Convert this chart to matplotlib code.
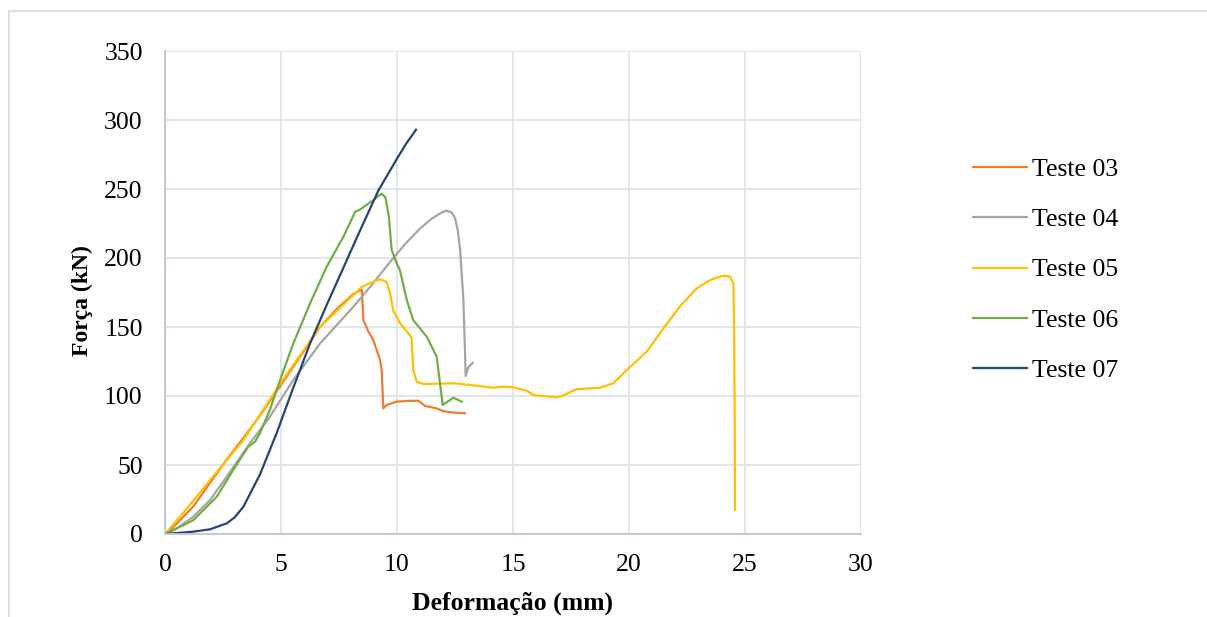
import matplotlib
matplotlib.use("Agg")
import matplotlib.pyplot as plt
from matplotlib.patches import Rectangle

# Force vs. deformation curves for five load tests
teste03_x = [0, 0.3, 0.65, 1.22, 1.94, 2.66, 3.4, 4.1, 5.0, 5.8, 6.68, 7.4, 8.12, 8.48,
             8.55, 8.77, 8.98, 9.27, 9.34, 9.41, 9.55, 9.99, 10.42, 10.92, 11.21, 11.71,
             11.99, 12.43, 12.93]
teste03_y = [0, 4, 10, 20, 37, 54, 70, 86, 108, 128, 150, 163, 174, 177,
             155, 146.6, 140.6, 126, 118.8, 91, 93.5, 95.9, 96.4, 96.6, 92.8, 91,
             89, 88, 87.5]

teste04_x = [0, 0.5, 1.22, 1.94, 2.66, 3.66, 4.52, 5.53, 6.68, 8.12, 8.84, 9.84, 10.4,
             11.0, 11.5, 11.9, 12.14, 12.35, 12.5, 12.62, 12.72, 12.86, 12.93, 12.96,
             13.08, 13.26]
teste04_y = [0, 4, 12.5, 24.6, 41.5, 65.7, 85, 111.6, 138, 164.7, 179, 200, 211,
             221.5, 228.5, 232.8, 234.3, 233, 229, 220, 206, 170, 133, 114.5,
             121, 124]

teste05_x = [0, 0.65, 1.94, 3.38, 5.05, 6.68, 8.48, 9.0, 9.27, 9.55, 9.70, 9.84, 10.13,
             10.56, 10.63, 10.70, 10.85, 11.13, 12.43, 13.15, 14.15, 14.51, 15.01, 15.59,
             15.88, 16.88, 17.1, 17.74, 18.75, 19.32, 19.9, 20.76, 21.48, 22.2, 22.92,
             23.49, 24.06, 24.35, 24.5, 24.53, 24.56, 24.57]
teste05_y = [0, 12.5, 39, 68, 111, 150, 179, 183, 184.5, 182.8, 174.4, 162, 152.7,
             144, 141.8, 118.8, 110.4, 108.7, 109.2, 108, 106, 106.7, 106.3, 103.9,
             100.7, 99, 100, 104.9, 106, 109.2, 118.8, 132, 149, 165, 178,
             184, 187.2, 186.5, 181.7, 147.8, 75, 17.4]

teste06_x = [0, 0.5, 1.22, 2.23, 2.94, 3.59, 3.88, 4.09, 4.52, 4.96, 5.53, 6.25, 6.97,
             7.69, 8.1, 8.19, 8.4, 8.98, 9.2, 9.35, 9.5, 9.65, 9.77, 9.99, 10.13, 10.42,
             10.70, 11.28, 11.71, 11.97, 12.1, 12.28, 12.43, 12.79]
teste06_y = [0, 4, 10, 27, 46.4, 63.3, 66.9, 73, 89.9, 111.6, 138, 167, 193.7,
             215.4, 230, 233.5, 235, 242, 245, 246.5, 244, 230, 205.8, 196, 191, 169.6,
             155, 143, 128.5, 93.5, 95, 97, 98.8, 95.9]

teste07_x = [0, 0.6, 1.22, 1.94, 2.66, 3.0, 3.38, 4.09, 4.81, 5.53, 6.25, 6.97, 7.69,
             8.41, 9.2, 10.0, 10.4, 10.82]
teste07_y = [0, 0.8, 1.7, 3.4, 7.7, 12, 19.8, 43, 73, 106, 138, 166, 193,
             220, 249, 272, 283, 293]

series = [
    ("Teste 03", teste03_x, teste03_y, "#ED7D31"),
    ("Teste 04", teste04_x, teste04_y, "#A5A5A5"),
    ("Teste 05", teste05_x, teste05_y, "#FFC000"),
    ("Teste 06", teste06_x, teste06_y, "#70AD47"),
    ("Teste 07", teste07_x, teste07_y, "#264478"),
]

x_ticks = [0, 5, 10, 15, 20, 25, 30]
y_ticks = [0, 50, 100, 150, 200, 250, 300, 350]

plt.rcParams["font.family"] = ["Liberation Serif", "DejaVu Serif"]

W, H = 1207, 617
fig = plt.figure(figsize=(W / 100, H / 100), dpi=100)
ax = fig.add_axes([165 / W, (H - 534) / H, (861 - 165) / W, (534 - 51) / H])

for label, xs, ys, color in series:
    ax.plot(xs, ys, color=color, lw=1.6, label=label, solid_joinstyle="round")

ax.set_xlim(0, 30)
ax.set_ylim(0, 350)
ax.set_xticks(x_ticks)
ax.set_yticks(y_ticks)
ax.grid(True, color="#DFE3EA", lw=1.3)
ax.set_axisbelow(True)
for side in ("top", "right"):
    ax.spines[side].set_visible(False)
for side in ("left", "bottom"):
    ax.spines[side].set_color("#BCC6D6")
    ax.spines[side].set_linewidth(1.3)
ax.tick_params(axis="both", length=0, labelsize=18.5, colors="black")
ax.tick_params(axis="x", pad=14.5)
ax.tick_params(axis="y", pad=16)

fig.text(513 / W, 1 - 603 / H, "Deformação (mm)", ha="center", va="center",
         fontsize=18.5, fontweight="bold")
fig.text(82 / W, 1 - 301 / H, "Força (kN)", ha="center", va="center",
         rotation=90, fontsize=17, fontweight="bold")

ax.legend(loc="center left", bbox_to_anchor=(973 / W, 1 - 270 / H),
          bbox_transform=fig.transFigure, frameon=False, fontsize=18.5,
          handlelength=2.1, handletextpad=0.2, labelspacing=1.07,
          borderpad=0, borderaxespad=0)

# outer chart frame
fig.patches.append(Rectangle((9 / W, -0.1), 1.2, 1.1 - 11 / H,
                             transform=fig.transFigure, fill=False,
                             edgecolor="#D9D9D9", lw=1.2))

fig.savefig("out.png", dpi=100)
